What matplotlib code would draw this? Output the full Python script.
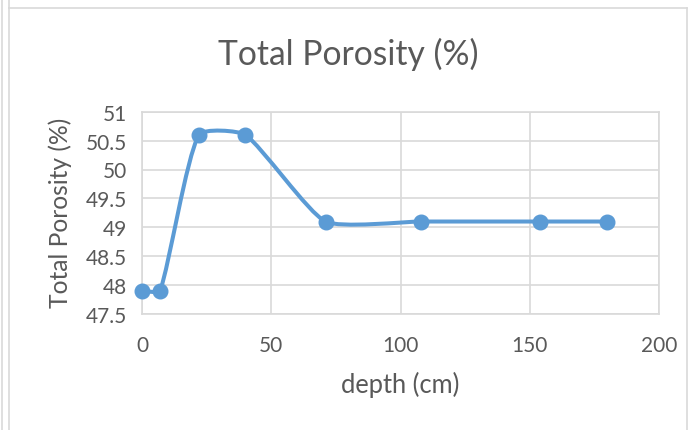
import matplotlib.pyplot as plt
import numpy as np
from matplotlib.path import Path
from matplotlib.patches import PathPatch
from matplotlib.lines import Line2D

depth = [0, 7, 22, 40, 71, 108, 154, 180]
porosity = [47.9, 47.9, 50.6, 50.6, 49.1, 49.1, 49.1, 49.1]

x_ticks = [0, 50, 100, 150, 200]
y_ticks = [47.5, 48, 48.5, 49, 49.5, 50, 50.5, 51]

blue = '#5B9BD5'
grey_txt = '#595959'
grid_col = '#D9D9D9'

plt.rcParams['font.family'] = ['Lato', 'DejaVu Sans']

W, H = 690, 431
fig = plt.figure(figsize=(W / 100, H / 100), dpi=100)
renderer = fig.canvas.get_renderer()


def fit_size(txt, target, base=12, rot=0):
    # font size that gives the wanted width (or height when rotated) in px
    t = fig.text(0, 0, txt, fontsize=base, rotation=rot)
    bb = t.get_window_extent(renderer)
    t.remove()
    got = bb.height if rot else bb.width
    return base * target / got


title_fs = fit_size('Total Porosity (%)', 260)
tick_fs = fit_size('47.5', 41)
xlab_fs = fit_size('depth (cm)', 118)
ylab_fs = fit_size('Total Porosity (%)', 190, rot=90)

ax = fig.add_axes([142 / W, 1 - 315 / H, (659 - 142) / W, (315 - 112.7) / H])
ax.set_xlim(0, 200)
ax.set_ylim(47.5, 51)
ax.set_xticks(x_ticks)
ax.set_yticks(y_ticks)
ax.set_yticklabels([f'{v:g}' for v in y_ticks])
ax.grid(True, color=grid_col, lw=1.2)
ax.set_axisbelow(True)
for s in ax.spines.values():
    s.set_color(grid_col)
    s.set_linewidth(1.2)
ax.tick_params(length=0, labelsize=tick_fs, colors=grey_txt)
ax.tick_params(axis='y', pad=11)
ax.tick_params(axis='x', pad=15)

# smoothed line like excel: arm = segment length / 6 along the tangent
pts = ax.transData.transform(np.c_[depth, porosity])
verts = [pts[0]]
codes = [Path.MOVETO]
n = len(pts)
for i in range(n - 1):
    p0 = pts[max(i - 1, 0)]
    p1 = pts[i]
    p2 = pts[i + 1]
    p3 = pts[min(i + 2, n - 1)]
    d12 = np.hypot(*(p2 - p1))
    t1 = (p2 - p0) / np.hypot(*(p2 - p0))
    t2 = (p3 - p1) / np.hypot(*(p3 - p1))
    c1 = p1 + t1 * d12 / 6
    c2 = p2 - t2 * d12 / 6
    verts += [c1, c2, p2]
    codes += [Path.CURVE4] * 3
verts = ax.transData.inverted().transform(np.array(verts))
ax.add_patch(PathPatch(Path(verts, codes), fill=False, edgecolor=blue, lw=2.9,
                       capstyle='round', joinstyle='round', clip_on=False))
ax.plot(depth, porosity, 'o', color=blue, ms=10.5, clip_on=False, zorder=3)

fig.text(400 / W, 1 - 393 / H, 'depth (cm)', fontsize=xlab_fs, color=grey_txt,
         ha='center', va='baseline')
fig.text(60 / W, 1 - 213 / H, 'Total Porosity (%)', fontsize=ylab_fs, color=grey_txt,
         ha='center', va='center', rotation=90)
fig.text(348 / W, 1 - 65 / H, 'Total Porosity (%)', fontsize=title_fs, color=grey_txt,
         ha='center', va='baseline')

# chart area frame
for xs, ys in [([9, 9], [-5, 9]), ([9, 687], [9, 9]), ([687, 687], [9, 436]),
               ([9, 9], [9, 436]), ([2, 2], [-5, 436])]:
    fig.add_artist(Line2D([x / W for x in xs], [1 - y / H for y in ys],
                          transform=fig.transFigure, color=grid_col, lw=1.2))

fig.savefig('out.png', dpi=100)
